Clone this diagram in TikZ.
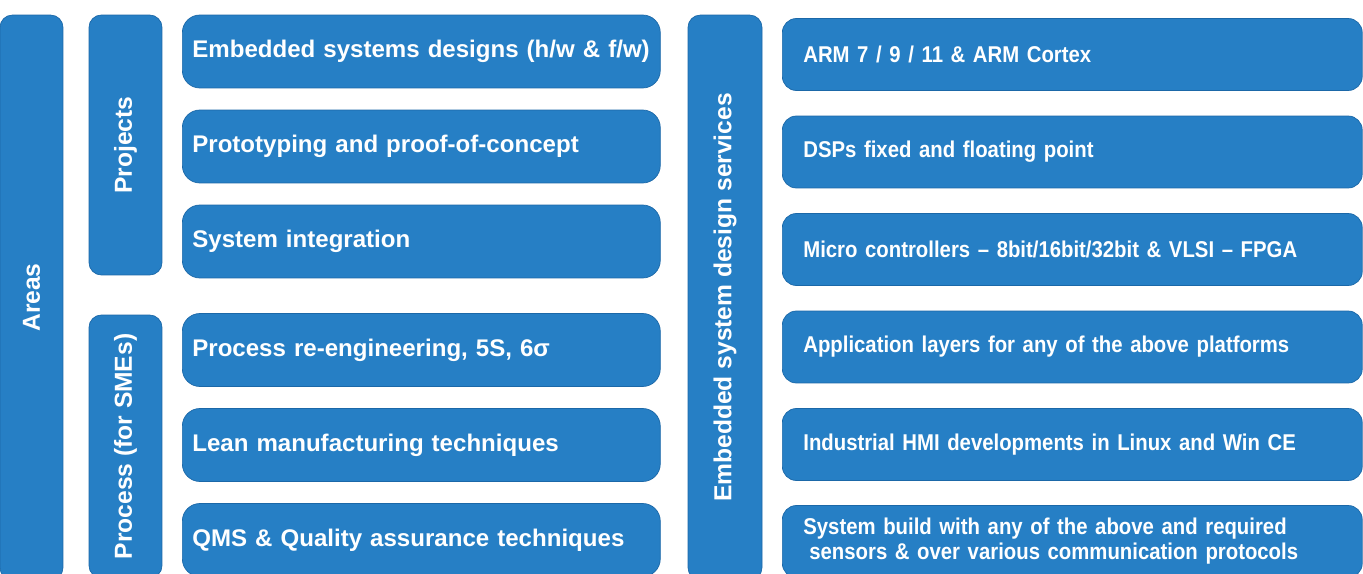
\documentclass[tikz,border=0pt]{standalone}
\usepackage{fontspec}
\setmainfont{Liberation Sans}
\newfontfamily\narrowsans[FakeStretch=0.89]{Liberation Sans}
\usepackage{tikz}
\usepackage{xcolor}
\definecolor{areablue}{RGB}{38, 127, 197}
\definecolor{edgeblue}{RGB}{27, 104, 168}

\begin{document}
\begin{tikzpicture}[
    x=0.02cm, y=-0.02cm,
    colbox/.style={draw=edgeblue, fill=areablue, rounded corners=7pt,
                   rotate=90, text=white, inner sep=0pt,
                   font=\bfseries\fontsize{14}{16}\selectfont},
    leftitem/.style={draw=edgeblue, fill=areablue, rounded corners=10pt,
                     anchor=west, text=white, align=left,
                     text width=9.16cm, inner xsep=0.2cm, inner ysep=0pt,
                     minimum height=1.46cm,
                     font=\bfseries\fontsize{13.7}{16}\selectfont},
    rightitem/.style={draw=edgeblue, fill=areablue, rounded corners=8pt,
                      anchor=west, text=white, align=left,
                      text width=10.76cm, inner xsep=0.42cm, inner ysep=0pt,
                      minimum height=1.44cm,
                      font=\narrowsans\bfseries\fontsize{13}{14.2}\selectfont},
  ]
  \useasboundingbox (0,0) rectangle (1363,574);
  \fill[white] (0,0) rectangle (1363,574);

  % group columns
  \node[colbox, minimum width=11.3cm, minimum height=1.26cm] (areas) at (31.5,297.5) {Areas};
  \node[colbox, minimum width=5.2cm, minimum height=1.46cm] (projects) at (125.5,145) {Projects};
  \node[colbox, minimum width=5.26cm, minimum height=1.46cm] (process) at (125.5,446.5) {Process (for SMEs)};
  \node[colbox, minimum width=11.3cm, minimum height=1.48cm] (services) at (725,297.5) {Embedded system design services};

  % projects and process
  \node[leftitem] (designs) at (182,51.5) {Embedded systems designs (h/w \& f/w)};
  \node[leftitem] (proto) at (182,146.5) {Prototyping and proof-of-concept};
  \node[leftitem] (integ) at (182,241.5) {System integration};
  \node[leftitem] (reeng) at (182,350) {Process re-engineering, 5S, 6σ};
  \node[leftitem] (lean) at (182,445) {Lean manufacturing techniques};
  \node[leftitem] (qms) at (182,540) {QMS \& Quality assurance techniques};

  % services
  \node[rightitem] (arm) at (782,54.5) {ARM 7 / 9 / 11 \& ARM Cortex};
  \node[rightitem] (dsp) at (782,152) {DSPs fixed and floating point};
  \node[rightitem] (micro) at (782,249.5) {Micro controllers – 8bit/16bit/32bit \& VLSI – FPGA};
  \node[rightitem] (layers) at (782,347) {Application layers for any of the above platforms};
  \node[rightitem] (hmi) at (782,444.5) {Industrial HMI developments in Linux and Win CE};
  \node[rightitem] (build) at (782,541.5) {System build with any of the above and required\\
    \hspace*{0.12cm}sensors \& over various communication protocols};
\end{tikzpicture}
\end{document}
